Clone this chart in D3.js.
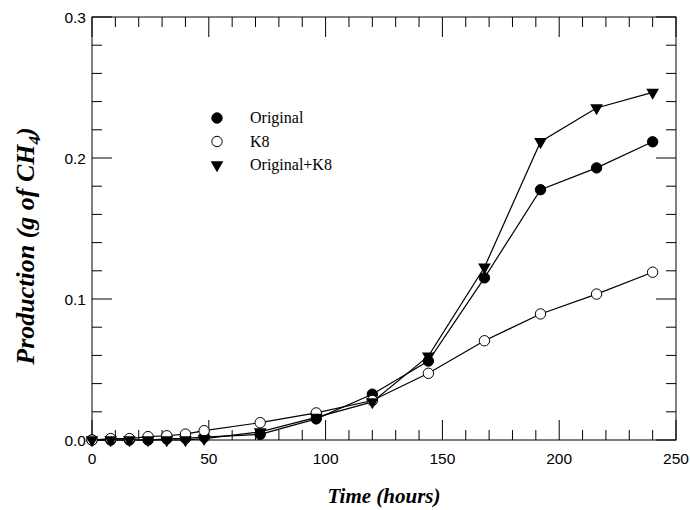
<!DOCTYPE html>
<html>
<head>
<meta charset="utf-8">
<script src="https://cdn.jsdelivr.net/npm/d3@7"></script>
<style>
  body { margin: 0; background: #fff; }
  svg { display: block; }
</style>
</head>
<body>
<svg id="chart" width="690" height="510"></svg>
<script>
const hours = [0, 8, 16, 24, 32, 40, 48, 72, 96, 120, 144, 168, 192, 216, 240];
const original = [0, 0, 0, 0, 0.0008, 0.0012, 0.002, 0.004, 0.015, 0.0325, 0.056, 0.115, 0.1775, 0.193, 0.2115];
const k8 = [0, 0.001, 0.001, 0.0024, 0.003, 0.0042, 0.0066, 0.0123, 0.0192, 0.028, 0.0473, 0.0704, 0.0894, 0.1035, 0.119];
const originalK8 = [0, 0, 0, 0, 0, 0, 0.001, 0.0058, 0.016, 0.027, 0.0595, 0.1225, 0.2115, 0.2355, 0.2465];
const xTicks = [0, 50, 100, 150, 200, 250];
const yTicks = [0.0, 0.1, 0.2, 0.3];
const seriesNames = ["Original", "K8", "Original+K8"];

const [width, height] = [690, 510];
const margin = {left: 92, right: 14, top: 17, bottom: 70};

const svg = d3.select("#chart");

const x = d3.scaleLinear().domain([0, 250]).range([margin.left, width - margin.right]);
const y = d3.scaleLinear().domain([0, 0.3]).range([height - margin.bottom, margin.top]);

const series = [
    {name: seriesNames[0], values: original, shape: "circle", fill: "#000"},
    {name: seriesNames[1], values: k8, shape: "circle", fill: "#fff"},
    {name: seriesNames[2], values: originalK8, shape: "triangle", fill: "#000"}
];

// frame
svg.append("rect")
    .attr("x", x(0)).attr("y", y(0.3))
    .attr("width", x(250) - x(0)).attr("height", y(0) - y(0.3))
    .attr("fill", "none").attr("stroke", "#000").attr("stroke-width", 1);

// ticks on all four sides, pointing inward
const xMinor = d3.range(0, 251, 10);
const yMinor = d3.range(0, 0.3001, 0.02);
const isMajorX = v => v % 50 === 0;
const isMajorY = v => Math.abs(v * 10 - Math.round(v * 10)) < 1e-6;

const tickG = svg.append("g").attr("stroke", "#000").attr("stroke-width", 1);
xMinor.forEach(v => {
    const len = isMajorX(v) ? 20 : 10;
    tickG.append("line").attr("x1", x(v)).attr("x2", x(v)).attr("y1", y(0)).attr("y2", y(0) - len);
    tickG.append("line").attr("x1", x(v)).attr("x2", x(v)).attr("y1", y(0.3)).attr("y2", y(0.3) + len);
});
yMinor.forEach(v => {
    const len = isMajorY(v) ? 20 : 10;
    tickG.append("line").attr("y1", y(v)).attr("y2", y(v)).attr("x1", x(0)).attr("x2", x(0) + len);
    tickG.append("line").attr("y1", y(v)).attr("y2", y(v)).attr("x1", x(250)).attr("x2", x(250) - len);
});

// tick labels
svg.append("g")
    .selectAll("text")
    .data(xTicks)
    .join("text")
    .attr("x", d => x(d))
    .attr("y", y(0) + 24)
    .attr("text-anchor", "middle")
    .attr("font-family", "Liberation Sans, Arial, sans-serif")
    .attr("font-size", 15.5)
    .text(d => d);

svg.append("g")
    .selectAll("text")
    .data(yTicks)
    .join("text")
    .attr("x", x(0) - 6)
    .attr("y", d => y(d) + 5.5)
    .attr("text-anchor", "end")
    .attr("font-family", "Liberation Sans, Arial, sans-serif")
    .attr("font-size", 15.5)
    .text(d => d.toFixed(1));

// lines
const line = d3.line()
    .x((d, i) => x(hours[i]))
    .y(d => y(d));

const symTri = d3.symbol().type(d3.symbolTriangle).size(70);

series.forEach(s => {
    svg.append("path")
        .attr("d", line(s.values))
        .attr("fill", "none")
        .attr("stroke", "#000")
        .attr("stroke-width", 1.2);
});

series.forEach(s => {
    const g = svg.append("g");
    if (s.shape === "circle") {
        g.selectAll("circle")
            .data(s.values)
            .join("circle")
            .attr("cx", (d, i) => x(hours[i]))
            .attr("cy", d => y(d))
            .attr("r", 5.2)
            .attr("fill", s.fill)
            .attr("stroke", "#000")
            .attr("stroke-width", 1);
    } else {
        g.selectAll("path")
            .data(s.values)
            .join("path")
            .attr("d", symTri)
            .attr("transform", (d, i) => `translate(${x(hours[i])},${y(d)}) rotate(180)`)
            .attr("fill", s.fill);
    }
});

// legend
const legend = svg.append("g").attr("transform", "translate(217,118)");
series.forEach((s, i) => {
    const row = legend.append("g").attr("transform", `translate(0,${i * 23.5})`);
    if (s.shape === "circle") {
        row.append("circle").attr("r", 5.2).attr("fill", s.fill).attr("stroke", "#000");
    } else {
        row.append("path").attr("d", symTri).attr("transform", "rotate(180)").attr("fill", s.fill);
    }
    row.append("text")
        .attr("x", 33)
        .attr("y", 5)
        .attr("font-family", "Liberation Serif, Times New Roman, serif")
        .attr("font-size", 16)
        .text(s.name);
});

// axis titles
svg.append("text")
    .attr("x", (x(0) + x(250)) / 2)
    .attr("y", 503)
    .attr("text-anchor", "middle")
    .attr("font-family", "Liberation Serif, Times New Roman, serif")
    .attr("font-weight", "bold")
    .attr("font-style", "italic")
    .attr("font-size", 21)
    .text("Time (hours)");

const yTitle = svg.append("text")
    .attr("transform", "translate(34,246) rotate(-90)")
    .attr("text-anchor", "middle")
    .attr("font-family", "Liberation Serif, Times New Roman, serif")
    .attr("font-weight", "bold")
    .attr("font-style", "italic")
    .attr("font-size", 26);
yTitle.append("tspan").text("Production (g of CH");
yTitle.append("tspan").attr("font-size", 17).attr("dy", 6).text("4");
yTitle.append("tspan").attr("dy", -6).text(")");
</script>
</body>
</html>
